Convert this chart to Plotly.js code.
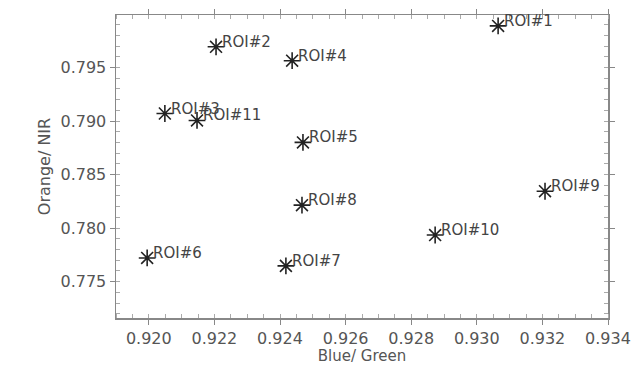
<!DOCTYPE html>
<html>
<head>
<meta charset="utf-8">
<script src="https://cdn.plot.ly/plotly-3.0.1.min.js"></script>
<style>html,body{margin:0;padding:0;background:#fff;}#chart{width:632px;height:365px;}</style>
</head>
<body>
<div id="chart"></div>
<script>
const labels = ["ROI#1","ROI#2","ROI#3","ROI#4","ROI#5","ROI#6","ROI#7","ROI#8","ROI#9","ROI#10","ROI#11"];
const blueGreen = [0.93065,0.92205,0.92049,0.92437,0.9247,0.91995,0.92418,0.92467,0.93208,0.92873,0.92147];
const orangeNir = [0.79888,0.79693,0.79070,0.79563,0.7880,0.77721,0.77647,0.78214,0.78344,0.77935,0.79005];

const trace = {
  x: blueGreen, y: orangeNir, mode: 'markers', type: 'scatter',
  marker: {symbol: 'asterisk-open', size: 14, color: '#222', line: {color: '#222', width: 1.6}},
  hoverinfo: 'none'
};
const annotations = labels.map((t, i) => ({
  x: blueGreen[i], y: orangeNir[i], xref: 'x', yref: 'y', text: t, showarrow: false,
  xanchor: 'left', yanchor: 'middle', xshift: 4, yshift: 5,
  font: {family: 'DejaVu Sans, sans-serif', size: 15, color: '#444'}
}));
const axisCommon = {
  showgrid: false, zeroline: false, showline: true, linecolor: '#888', linewidth: 1.5,
  mirror: 'allticks', ticks: 'outside', ticklen: 5, tickcolor: '#888', tickwidth: 1,
  ticklabeloverflow: 'allow',
  tickfont: {family: 'DejaVu Sans, sans-serif', size: 16, color: '#555'}
};
const layout = {
  width: 632, height: 365, margin: {l: 116, r: 24, t: 15, b: 47},
  paper_bgcolor: '#fff', plot_bgcolor: '#fff', showlegend: false,
  xaxis: Object.assign({}, axisCommon, {
    range: [0.919, 0.934], dtick: 0.002, tick0: 0.920, tickformat: '.3f',
    minor: {dtick: 0.0005, ticks: 'inside', ticklen: 4, tickcolor: '#aaa'},
    title: {text: 'Blue/ Green', standoff: 4, font: {family: 'DejaVu Sans, sans-serif', size: 15, color: '#555'}}
  }),
  yaxis: Object.assign({}, axisCommon, {
    range: [0.7716, 0.7999], dtick: 0.005, tick0: 0.775, tickformat: '.3f',
    minor: {dtick: 0.001, ticks: 'inside', ticklen: 4, tickcolor: '#aaa'},
    title: {text: 'Orange/ NIR', standoff: 6, font: {family: 'DejaVu Sans, sans-serif', size: 16, color: '#555'}}
  }),
  annotations: annotations
};
Plotly.newPlot('chart', [trace], layout, {displayModeBar: false, staticPlot: true});
</script>
</body>
</html>
